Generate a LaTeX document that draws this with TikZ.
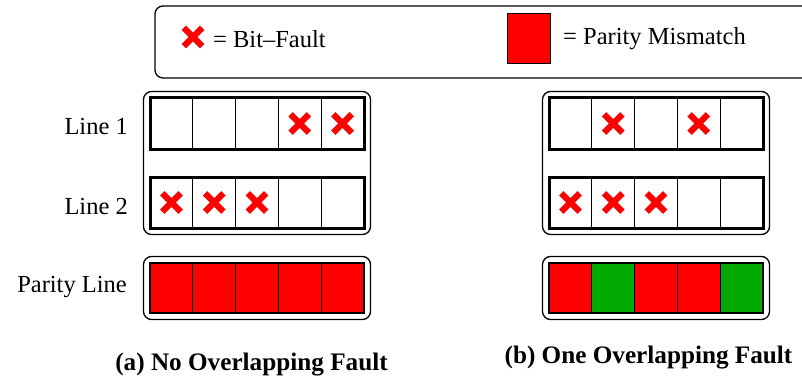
\documentclass[tikz,border=0pt]{standalone}
\usepackage{fontspec}
\setmainfont{LiberationSerif}[Extension=.ttf, UprightFont=*-Regular, BoldFont=*-Bold, ItalicFont=*-Italic, BoldItalicFont=*-BoldItalic]
\usetikzlibrary{fit}
\definecolor{bitred}{RGB}{255,0,0}
\definecolor{okgreen}{RGB}{0,170,0}
\begin{document}
\begin{tikzpicture}[x=1pt,y=-1pt,
  cell/.style={draw=black, line width=1.2pt, minimum width=42.8pt, minimum height=51pt, inner sep=0pt, outer sep=0pt},
  pcell/.style={cell, minimum height=50pt},
  rowframe/.style={draw=black, line width=3pt},
  panelbox/.style={draw=black, line width=1.3pt, rounded corners=8pt, inner sep=6.5pt},
  lbl/.style={font=\fontsize{24.5}{29}\selectfont, inner sep=0pt},
  captxt/.style={font=\fontsize{25.2}{30}\selectfont\bfseries, inner sep=0pt, anchor=base},
  xm/.pic={\draw[bitred, line width=6.2pt] (-9.2,-9.2) -- (9.2,9.2) (-9.2,9.2) -- (9.2,-9.2);}
]
\useasboundingbox (0,0) rectangle (802,377);

% legend
\draw[line width=1.3pt, rounded corners=8pt] (155,6) rectangle (840,78);
\coordinate (legx) at (193,37);
\pic at (legx) {xm};
\node[lbl, anchor=base west] (legxt) at (213,48) {= Bit--Fault};
\node[draw=black, line width=0.8pt, fill=bitred, minimum width=43pt, minimum height=50pt, inner sep=0pt] (legsq) at (528.5,38) {};
\node[lbl, anchor=base west] (legsqt) at (563,45) {= Parity Mismatch};

% panel cells
\foreach \p/\xo in {a/150, b/549} {
  \foreach \i in {1,...,5} {
    \node[cell] (\p1c\i) at ({\xo+42.8*(\i-0.5)},123.5) {};
    \node[cell] (\p2c\i) at ({\xo+42.8*(\i-0.5)},202.5) {};
  }
  \draw[rowframe] (\p1c1.north west) rectangle (\p1c5.south east);
  \draw[rowframe] (\p2c1.north west) rectangle (\p2c5.south east);
  \node[panelbox, fit=(\p1c1)(\p2c5)] (\p box) {};
}

% parity rows
\foreach \i/\c in {1/bitred,2/bitred,3/bitred,4/bitred,5/bitred}
  \node[pcell, fill=\c] (apc\i) at ({150+42.8*(\i-0.5)},288) {};
\foreach \i/\c in {1/bitred,2/okgreen,3/bitred,4/bitred,5/okgreen}
  \node[pcell, fill=\c] (bpc\i) at ({549+42.8*(\i-0.5)},288) {};
\node[panelbox, fit=(apc1)(apc5)] (apbox) {};
\node[panelbox, fit=(bpc1)(bpc5)] (bpbox) {};

% faults
\foreach \n in {a1c4,a1c5,a2c1,a2c2,a2c3,b1c2,b1c4,b2c1,b2c2,b2c3}
  \pic at (\n) {xm};

% labels
\node[lbl, anchor=base east] (l1) at (128,135) {Line 1};
\node[lbl, anchor=base east] (l2) at (128,214) {Line 2};
\node[lbl, anchor=base east] (lp) at (127,292) {Parity Line};

\node[captxt] (capa) at (251.5,370) {(a) No Overlapping Fault};
\node[captxt] (capb) at (648.5,363) {(b) One Overlapping Fault};
\end{tikzpicture}
\end{document}
